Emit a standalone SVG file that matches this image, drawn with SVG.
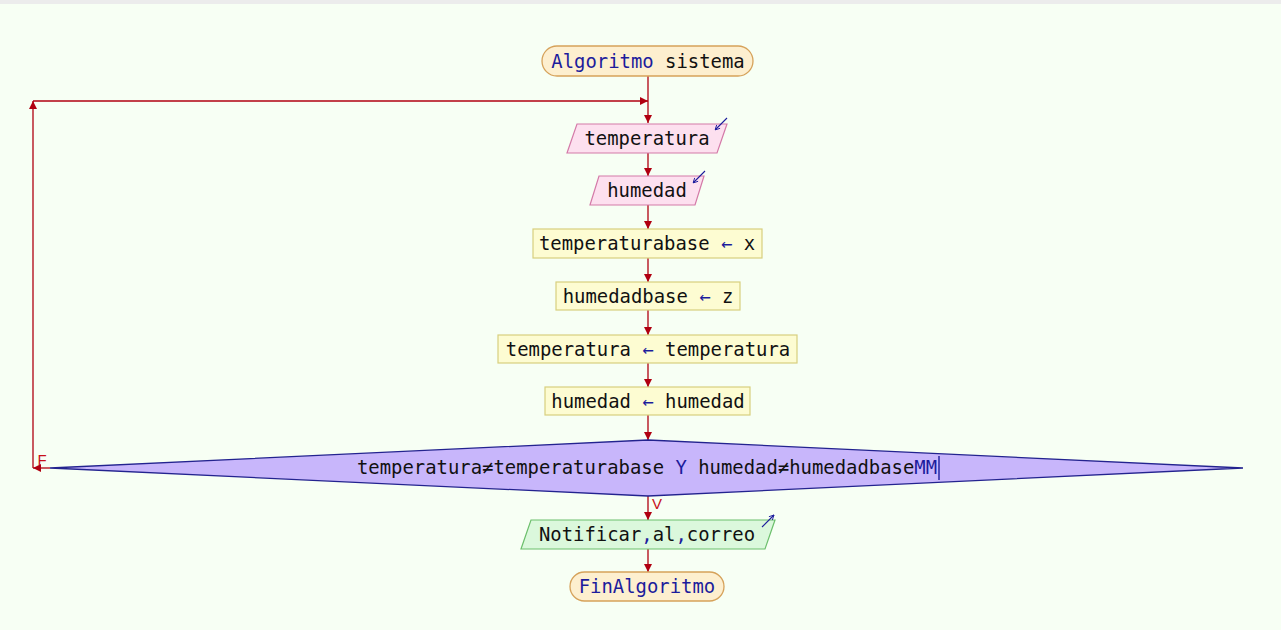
<svg xmlns="http://www.w3.org/2000/svg" width="1281" height="630" viewBox="0 0 1281 630">
<style>
text{font-family:"DejaVu Sans Mono","Liberation Mono",monospace;font-size:18.9px;fill:#111;text-anchor:middle;dominant-baseline:central}
.kw{fill:#1c1c9c}
.term{fill:#fdefcf;stroke:#d6a25a;stroke-width:1.3}
.inp{fill:#fde0ef;stroke:#d47aa8;stroke-width:1.2}
.asg{fill:#fdfcd2;stroke:#d8cf7e;stroke-width:1.2}
.out{fill:#dbf8dc;stroke:#6cbf6c;stroke-width:1.2}
.dec{fill:#c8b6fb;stroke:#23238f;stroke-width:1.3}
.con{stroke:#b00010;stroke-width:1.3;fill:none}
.lbl{fill:#c8101a;font-size:15px;font-family:"Liberation Sans Narrow","Liberation Sans",sans-serif}
.io{stroke:#1c1c9c;stroke-width:1.1;fill:none}
</style>
<defs>
<marker id="ah" viewBox="0 0 10 10" refX="10" refY="5" markerWidth="8" markerHeight="8" markerUnits="userSpaceOnUse" orient="auto">
<path d="M0,0 L10,5 L0,10 z" fill="#b00010"/>
</marker>
<marker id="sa" viewBox="0 0 10 10" refX="10" refY="5" markerWidth="6" markerHeight="6" markerUnits="userSpaceOnUse" orient="auto">
<path d="M2,1 L10,5 L2,9" fill="none" stroke="#1c1c9c" stroke-width="1.5"/>
</marker>
</defs>
<rect x="0" y="0" width="1281" height="630" fill="#f7fff4"/>
<rect x="0" y="0" width="1281" height="4" fill="#ececec"/>
<g id="connectors">
<line class="con" x1="648" y1="76" x2="648" y2="123" marker-end="url(#ah)"/>
<line class="con" x1="33" y1="101" x2="648" y2="101" marker-end="url(#ah)"/>
<line class="con" x1="648" y1="153" x2="648" y2="176" marker-end="url(#ah)"/>
<line class="con" x1="648" y1="205" x2="648" y2="229" marker-end="url(#ah)"/>
<line class="con" x1="648" y1="258" x2="648" y2="282" marker-end="url(#ah)"/>
<line class="con" x1="648" y1="310" x2="648" y2="335" marker-end="url(#ah)"/>
<line class="con" x1="648" y1="363" x2="648" y2="387" marker-end="url(#ah)"/>
<line class="con" x1="648" y1="415" x2="648" y2="440" marker-end="url(#ah)"/>
<line class="con" x1="648" y1="496" x2="648" y2="520" marker-end="url(#ah)"/>
<line class="con" x1="648" y1="549" x2="648" y2="572" marker-end="url(#ah)"/>
<line class="con" x1="50" y1="468" x2="33" y2="468" marker-end="url(#ah)"/>
<line class="con" x1="33" y1="468" x2="33" y2="101" marker-end="url(#ah)"/>
<text class="lbl" x="42" y="459">F</text>
<text class="lbl" x="657" y="503">V</text>
</g>
<g id="start">
<rect class="term" x="542" y="46" width="211" height="30" rx="15"/>
<text x="648" y="61"><tspan class="kw">Algoritmo</tspan> sistema</text>
</g>
<g id="in-temperatura">
<polygon class="inp" points="577,124 727,124 717,153 567,153"/>
<text x="647" y="138">temperatura</text>
<line class="io" x1="727" y1="118" x2="715" y2="130" marker-end="url(#sa)"/>
</g>
<g id="in-humedad">
<polygon class="inp" points="599,176 704,176 695,205 590,205"/>
<text x="647" y="190">humedad</text>
<line class="io" x1="705" y1="171" x2="693" y2="183" marker-end="url(#sa)"/>
</g>
<g id="asg-tempbase">
<rect class="asg" x="533" y="229" width="229" height="29"/>
<text x="647" y="243">temperaturabase <tspan class="kw">←</tspan> x</text>
</g>
<g id="asg-humbase">
<rect class="asg" x="556" y="282" width="184" height="28"/>
<text x="648" y="296">humedadbase <tspan class="kw">←</tspan> z</text>
</g>
<g id="asg-temp">
<rect class="asg" x="498" y="335" width="299" height="28"/>
<text x="648" y="349">temperatura <tspan class="kw">←</tspan> temperatura</text>
</g>
<g id="asg-hum">
<rect class="asg" x="545" y="387" width="205" height="28"/>
<text x="648" y="401">humedad <tspan class="kw">←</tspan> humedad</text>
</g>
<g id="decision">
<polygon class="dec" points="648,440 1243,468 648,496 50,468"/>
<text x="647" y="467">temperatura≠temperaturabase <tspan class="kw">Y</tspan> humedad≠humedadbase<tspan class="kw">MM</tspan></text>
<line x1="939" y1="456" x2="939" y2="480" stroke="#1c1c9c" stroke-width="1.4"/>
</g>
<g id="out-notificar">
<polygon class="out" points="531,520 775,520 765,549 521,549"/>
<text x="647" y="534">Notificar<tspan class="kw">,</tspan>al<tspan class="kw">,</tspan>correo</text>
<line class="io" x1="762" y1="527" x2="774" y2="515" marker-end="url(#sa)"/>
</g>
<g id="end">
<rect class="term" x="570" y="572" width="154" height="29" rx="14.5"/>
<text x="647" y="586" class="kw">FinAlgoritmo</text>
</g>
</svg>
